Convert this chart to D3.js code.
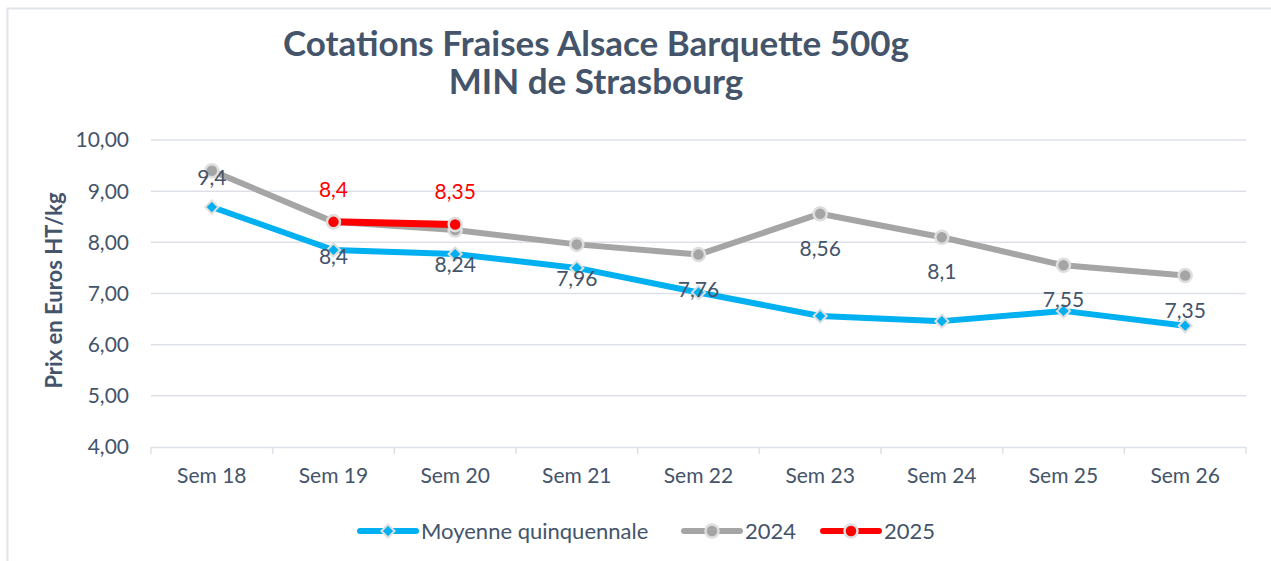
<!DOCTYPE html>
<html>
<head>
<meta charset="utf-8">
<script src="https://cdn.jsdelivr.net/npm/d3@7"></script>
<style>
  body { margin: 0; background: #fff; }
  text { font-family: Lato, "Open Sans", sans-serif; }
</style>
</head>
<body>
<div id="chart"></div>
<script>
// Chart data
const weeks = ["Sem 18", "Sem 19", "Sem 20", "Sem 21", "Sem 22", "Sem 23", "Sem 24", "Sem 25", "Sem 26"];
const moyenne = [8.69, 7.85, 7.77, 7.50, 7.02, 6.56, 6.46, 6.66, 6.37];
const prix2024 = [9.4, 8.4, 8.24, 7.96, 7.76, 8.56, 8.1, 7.55, 7.35];
const prix2025 = [null, 8.4, 8.35, null, null, null, null, null, null];
const yTicks = [4, 5, 6, 7, 8, 9, 10];

const width = 1271;
const height = 561;
const textColor = "#44546a";
const gridColor = "#dde1e7";
const fs = 21;

const svg = d3.select("#chart").append("svg")
    .attr("width", width)
    .attr("height", height);

// outer frame (only top & left visible in the picture)
svg.append("rect")
    .attr("x", 7.5).attr("y", 8.5)
    .attr("width", 1280).attr("height", 600)
    .attr("fill", "none")
    .attr("stroke", "#e1e5ea")
    .attr("stroke-width", 2);

const margin = {left: 151, right: 25, top: 140, bottom: 114};

const x = d3.scaleBand()
    .domain(weeks)
    .range([margin.left, width - margin.right]);

const y = d3.scaleLinear()
    .domain([4, 10])
    .range([height - margin.bottom, margin.top]);

const cx = d => x(d) + x.bandwidth() / 2;

// gridlines
svg.append("g")
    .selectAll("line")
    .data(yTicks.slice(1))
    .join("line")
    .attr("x1", margin.left).attr("x2", width - margin.right)
    .attr("y1", d => y(d)).attr("y2", d => y(d))
    .attr("stroke", gridColor)
    .attr("stroke-width", 1.5);

// y axis labels
svg.append("g")
    .selectAll("text")
    .data(yTicks)
    .join("text")
    .attr("x", 129)
    .attr("y", d => y(d))
    .attr("dy", "0.35em")
    .attr("text-anchor", "end")
    .attr("fill", textColor)
    .attr("font-size", fs)
    .text(d => d3.format(".2f")(d).replace(".", ","));

// x axis
const xAxis = d3.axisBottom(x).tickSize(0).tickPadding(21);
const gx = svg.append("g")
    .attr("transform", `translate(0,${y(4)})`)
    .call(xAxis);
gx.select(".domain").attr("stroke", gridColor).attr("stroke-width", 1.5);
gx.selectAll("text").attr("fill", textColor).attr("font-size", fs)
    .style("font-family", "Lato, 'Open Sans', sans-serif");

// category boundary ticks
svg.append("g")
    .selectAll("line")
    .data(weeks.concat(["end"]))
    .join("line")
    .attr("x1", (d, i) => margin.left + i * x.bandwidth())
    .attr("x2", (d, i) => margin.left + i * x.bandwidth())
    .attr("y1", y(4)).attr("y2", y(4) + 7)
    .attr("stroke", gridColor)
    .attr("stroke-width", 1.5);

// axis title
svg.append("text")
    .attr("transform", `translate(62,${(y(10) + y(4)) / 2 - 3}) rotate(-90)`)
    .attr("text-anchor", "middle")
    .attr("fill", textColor)
    .attr("font-size", 22)
    .attr("font-weight", "bold")
    .text("Prix en Euros HT/kg");

// chart title
const title = svg.append("text")
    .attr("text-anchor", "middle")
    .attr("fill", textColor)
    .attr("font-size", 35)
    .attr("font-weight", "bold");
title.append("tspan").attr("x", 596).attr("y", 56).text("Cotations Fraises Alsace Barquette 500g");
title.append("tspan").attr("x", 596).attr("y", 94).text("MIN de Strasbourg");

const line = d3.line()
    .defined(d => d.v != null)
    .x(d => cx(d.w))
    .y(d => y(d.v));

const pts = arr => weeks.map((w, i) => ({w: w, v: arr[i]}));

const diamond = d3.symbol().type(d3.symbolDiamond2).size(110);

// Moyenne quinquennale
svg.append("path")
    .datum(pts(moyenne))
    .attr("d", line)
    .attr("fill", "none")
    .attr("stroke", "#00b0f0")
    .attr("stroke-width", 6)
    .attr("stroke-linejoin", "round");

svg.append("g")
    .selectAll("path")
    .data(pts(moyenne))
    .join("path")
    .attr("d", diamond)
    .attr("transform", d => `translate(${cx(d.w)},${y(d.v)})`)
    .attr("fill", "#00b0f0")
    .attr("stroke", "#dedede")
    .attr("stroke-width", 2);

// 2024
svg.append("path")
    .datum(pts(prix2024))
    .attr("d", line)
    .attr("fill", "none")
    .attr("stroke", "#a5a5a5")
    .attr("stroke-width", 6)
    .attr("stroke-linejoin", "round");

svg.append("g")
    .selectAll("circle")
    .data(pts(prix2024))
    .join("circle")
    .attr("cx", d => cx(d.w))
    .attr("cy", d => y(d.v))
    .attr("r", 6.5)
    .attr("fill", "#a5a5a5")
    .attr("stroke", "#dedede")
    .attr("stroke-width", 2.5);

// 2025
const pts2025 = pts(prix2025).filter(d => d.v != null);
svg.append("path")
    .datum(pts2025)
    .attr("d", line)
    .attr("fill", "none")
    .attr("stroke", "#ff0000")
    .attr("stroke-width", 7);

svg.append("g")
    .selectAll("circle")
    .data(pts2025)
    .join("circle")
    .attr("cx", d => cx(d.w))
    .attr("cy", d => y(d.v))
    .attr("r", 6.5)
    .attr("fill", "#ff0000")
    .attr("stroke", "#dedede")
    .attr("stroke-width", 2.5);

const fmt = v => String(v).replace(".", ",");

// 2024 labels (below the points)
svg.append("g")
    .selectAll("text")
    .data(pts(prix2024))
    .join("text")
    .attr("x", d => cx(d.w))
    .attr("y", (d, i) => y(d.v) + (i === 0 ? 14 : 42))
    .attr("text-anchor", "middle")
    .attr("fill", textColor)
    .attr("font-size", fs)
    .text(d => fmt(d.v));

// 2025 labels (above)
svg.append("g")
    .selectAll("text")
    .data(pts2025)
    .join("text")
    .attr("x", d => cx(d.w))
    .attr("y", d => y(d.v) - 25)
    .attr("text-anchor", "middle")
    .attr("fill", "#ff0000")
    .attr("font-size", fs)
    .text(d => fmt(d.v));

// legend
const legendItems = [
    {name: "Moyenne quinquennale", color: "#00b0f0", marker: "diamond", x: 360},
    {name: "2024", color: "#a5a5a5", marker: "ring", x: 684},
    {name: "2025", color: "#ff0000", marker: "dot", x: 823}
];
const lg = svg.append("g").attr("transform", "translate(0,531)");
const item = lg.selectAll("g").data(legendItems).join("g")
    .attr("transform", d => `translate(${d.x},0)`);
item.append("line")
    .attr("x1", 0).attr("x2", 56)
    .attr("stroke", d => d.color)
    .attr("stroke-width", 6)
    .attr("stroke-linecap", "round");
item.filter(d => d.marker === "diamond").append("path")
    .attr("d", diamond)
    .attr("transform", "translate(28,0)")
    .attr("fill", "#00b0f0")
    .attr("stroke", "#dedede")
    .attr("stroke-width", 2);
item.filter(d => d.marker !== "diamond").append("circle")
    .attr("cx", 28).attr("r", 6.5)
    .attr("fill", d => d.color)
    .attr("stroke", "#dedede")
    .attr("stroke-width", 2.5);
item.append("text")
    .attr("x", 61)
    .attr("dy", "0.35em")
    .attr("fill", textColor)
    .attr("font-size", 22)
    .text(d => d.name);
</script>
</body>
</html>
